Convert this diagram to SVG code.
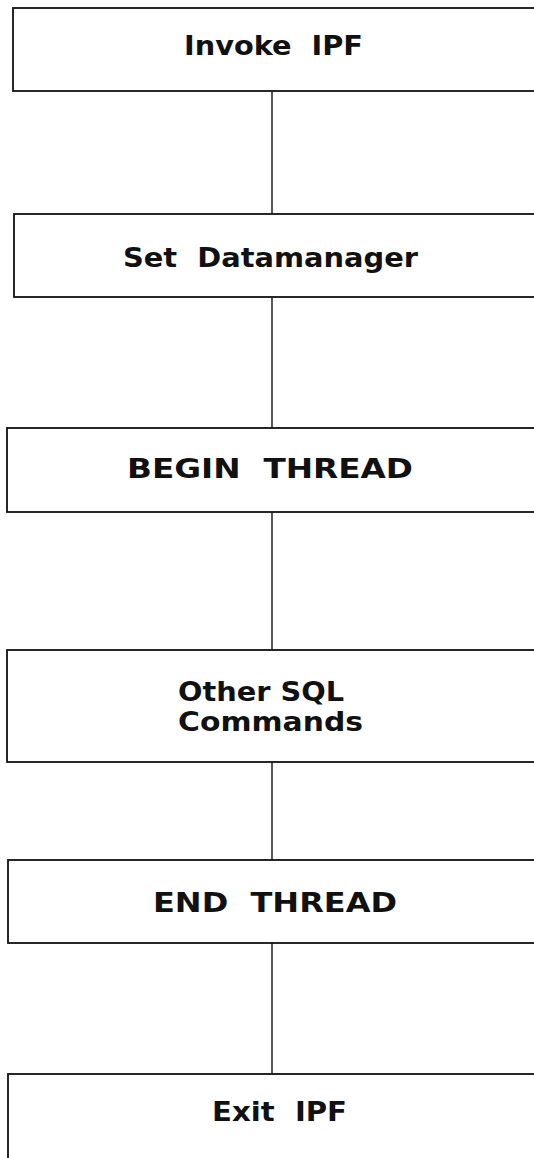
<svg xmlns="http://www.w3.org/2000/svg" width="534" height="1158" viewBox="0 0 534 1158">
<style>
.box{fill:#fff;stroke:#111;stroke-width:1.8}
.lbl{font-family:"DejaVu Sans","Liberation Sans",sans-serif;font-weight:bold;font-size:27px;fill:#111;white-space:pre}
.conn{stroke:#111;stroke-width:1.4;fill:none}
</style>
<rect width="534" height="1158" fill="#fff"/>
<g id="connectors">
<line class="conn" x1="272" y1="91" x2="272" y2="214"/>
<line class="conn" x1="272" y1="297" x2="272" y2="428"/>
<line class="conn" x1="272" y1="512" x2="272" y2="650"/>
<line class="conn" x1="272" y1="762" x2="272" y2="860"/>
<line class="conn" x1="272" y1="943" x2="272" y2="1074"/>
</g>
<g id="n1">
<rect class="box" x="13" y="8" width="540" height="83"/>
<text class="lbl" xml:space="preserve" x="184" y="55" textLength="179" lengthAdjust="spacingAndGlyphs">Invoke  IPF</text>
</g>
<g id="n2">
<rect class="box" x="14" y="214" width="540" height="83"/>
<text class="lbl" xml:space="preserve" x="123" y="267" textLength="295" lengthAdjust="spacingAndGlyphs">Set  Datamanager</text>
</g>
<g id="n3">
<rect class="box" x="7" y="428" width="540" height="84"/>
<text class="lbl" xml:space="preserve" x="127" y="478" textLength="286" lengthAdjust="spacingAndGlyphs">BEGIN  THREAD</text>
</g>
<g id="n4">
<rect class="box" x="7" y="650" width="540" height="112"/>
<text class="lbl" x="178" y="701" textLength="166" lengthAdjust="spacingAndGlyphs">Other SQL</text>
<text class="lbl" x="178" y="731" textLength="185" lengthAdjust="spacingAndGlyphs">Commands</text>
</g>
<g id="n5">
<rect class="box" x="8" y="860" width="540" height="83"/>
<text class="lbl" xml:space="preserve" x="153" y="912" textLength="244" lengthAdjust="spacingAndGlyphs">END  THREAD</text>
</g>
<g id="n6">
<rect class="box" x="8" y="1074" width="540" height="100"/>
<text class="lbl" xml:space="preserve" x="212" y="1121" textLength="135" lengthAdjust="spacingAndGlyphs">Exit  IPF</text>
</g>
</svg>
